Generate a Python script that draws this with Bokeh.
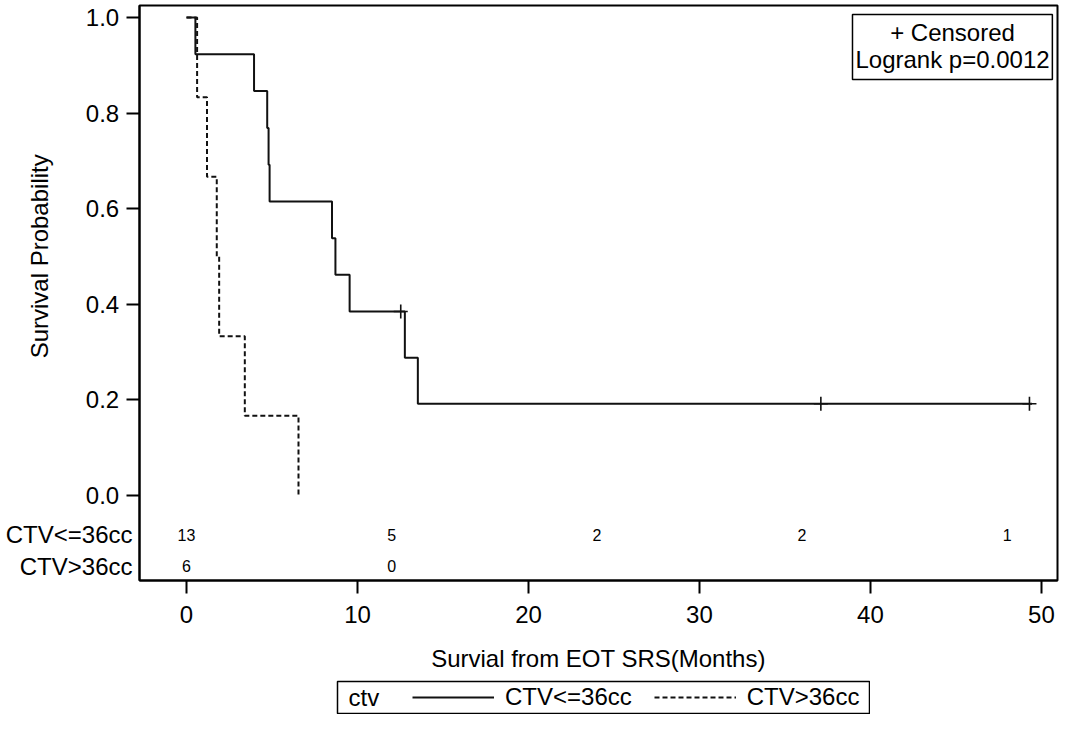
from bokeh.plotting import figure
from bokeh.layouts import column, row
from bokeh.models import (Range1d, FixedTicker, Label, Legend, LegendItem,
                          BoxAnnotation, Spacer)
from bokeh.embed import file_html
from bokeh.resources import INLINE
from bokeh.core.properties import value

FONT = "Liberation Sans"
INK = "#111111"

group_names = ["CTV<=36cc", "CTV>36cc"]

# Kaplan-Meier steps
g1_times = [0.0, 0.52, 3.95, 4.72, 4.80, 4.86, 8.51, 8.71, 9.54, 12.77, 13.53, 49.45]
g1_surv = [1.0, 0.923, 0.846, 0.769, 0.692, 0.615, 0.538, 0.462, 0.385, 0.288, 0.192, 0.192]
g1_censor_t = [12.53, 37.1, 49.3]
g1_censor_s = [0.385, 0.192, 0.192]

g2_times = [0.0, 0.62, 1.20, 1.77, 1.91, 3.41, 6.55]
g2_surv = [1.0, 0.833, 0.667, 0.500, 0.333, 0.167, 0.0]

# numbers at risk
risk_times = [0, 12, 24, 36, 48]
risk_g1 = [13, 5, 2, 2, 1]
risk_g2_times = [0, 12]
risk_g2 = [6, 0]

x_ticks = [0, 10, 20, 30, 40, 50]
y_ticks = [0.0, 0.2, 0.4, 0.6, 0.8, 1.0]
y_tick_labels = ["0.0", "0.2", "0.4", "0.6", "0.8", "1.0"]

stat_lines = ["+ Censored", "Logrank p=0.0012"]
x_title = "Survial from EOT SRS(Months)"
y_title = "Survival Probability"
legend_title = "ctv"

# layout constants (rows of the at-risk table, in y units below 0)
ROW_Y = [-0.0816, -0.1485]
PAD = "\u00a0\u00a0"

p = figure(width=1059, height=680, output_backend="svg", toolbar_location=None,
           x_range=Range1d(-2.749, 50.94), y_range=Range1d(-0.1778, 1.0251),
           min_border_left=139, min_border_right=2, min_border_top=5, min_border_bottom=100)
p.grid.visible = False
p.outline_line_color = "black"
p.outline_line_width = 2
p.background_fill_color = "white"
p.border_fill_color = "white"

for ax in (p.xaxis[0], p.yaxis[0]):
    ax.axis_line_width = 2
    ax.axis_line_color = "black"
    ax.major_tick_line_width = 2
    ax.major_tick_line_color = "black"
    ax.major_tick_in = 0
    ax.major_tick_out = 13
    ax.minor_tick_line_color = None
    ax.major_label_text_font = FONT
    ax.major_label_text_font_size = "24px"
    ax.major_label_text_color = "black"
    ax.axis_label_text_font = FONT
    ax.axis_label_text_font_size = "24px"
    ax.axis_label_text_font_style = "normal"
    ax.axis_label_text_color = "black"

p.xaxis.ticker = FixedTicker(ticks=x_ticks)
p.xaxis.major_label_standoff = 12
p.xaxis.axis_label = x_title
p.xaxis.axis_label_standoff = 19

# y axis: visible tick marks are drawn as "minor" ticks at 0..1,
# major (mark-less) ticks carry the value labels and the at-risk row names
ya = p.yaxis[0]
ya.ticker = FixedTicker(ticks=ROW_Y + y_ticks, minor_ticks=y_ticks)
overrides = {yv: lab + PAD for yv, lab in zip(y_ticks, y_tick_labels)}
for yv, name in zip(ROW_Y, group_names):
    overrides[yv] = name
ya.major_label_overrides = overrides
ya.major_tick_out = 0
ya.major_tick_line_color = None
ya.minor_tick_line_color = "black"
ya.minor_tick_line_width = 2
ya.minor_tick_in = 0
ya.minor_tick_out = 13
ya.major_label_standoff = -6
ya.axis_label = "\u00a0" * 11 + y_title
ya.axis_label_standoff = -50

r1 = p.step(g1_times, g1_surv, mode="after", line_color=INK, line_width=2)
r2 = p.step(g2_times, g2_surv, mode="after", line_color=INK, line_width=2, line_dash="5 3")
p.scatter(g1_censor_t, g1_censor_s, marker="cross", size=14, line_color=INK, line_width=1.6)

# at-risk table
p.text(risk_times, [ROW_Y[0]] * len(risk_times), text=[str(v) for v in risk_g1],
       text_font=value(FONT), text_font_size="16px", text_align="center",
       text_baseline="middle", text_color="black")
p.text(risk_g2_times, [ROW_Y[1]] * len(risk_g2_times), text=[str(v) for v in risk_g2],
       text_font=value(FONT), text_font_size="16px", text_align="center",
       text_baseline="middle", text_color="black")

# inset statistics box
p.add_layout(BoxAnnotation(left=38.95, right=50.64, bottom=0.8703, top=1.0063,
                           fill_color="white", fill_alpha=1.0,
                           line_color="black", line_width=1.5, line_alpha=1.0))
for txt, yy in zip(stat_lines, [0.968, 0.912]):
    p.add_layout(Label(x=44.80, y=yy, text=txt, text_align="center", text_baseline="middle",
                       text_font=FONT, text_font_size="24px", text_color="black"))

# legend panel below the plot
p2 = figure(width=534, height=34, output_backend="svg", toolbar_location=None,
            x_range=Range1d(0, 532), y_range=Range1d(0, 32),
            min_border_left=1, min_border_right=1, min_border_top=1, min_border_bottom=1)
p2.axis.visible = False
p2.grid.visible = False
p2.outline_line_color = "black"
p2.outline_line_width = 1.5
p2.outline_line_alpha = 1.0
p2.border_fill_color = "white"
lr1 = p2.line(g1_times, g1_surv, line_color=INK, line_width=2, visible=False)
lr2 = p2.line(g2_times, g2_surv, line_color=INK, line_width=2, line_dash="5 3", visible=False)
p2.add_layout(Label(x=11, y=16, text=legend_title, text_align="left", text_baseline="middle",
                    text_font=FONT, text_font_size="24px", text_color="black"))
legend = Legend(items=[LegendItem(label=group_names[0], renderers=[lr1]),
                       LegendItem(label=group_names[1], renderers=[lr2])],
                orientation="horizontal", location=(75, 2),
                label_text_font=FONT, label_text_font_size="24px", label_text_color="black",
                glyph_width=82, glyph_height=20, label_standoff=11, spacing=22,
                padding=0, margin=0, border_line_color=None,
                background_fill_alpha=0.0, inactive_fill_alpha=0.0)
p2.add_layout(legend)

layout = column(p, row(Spacer(width=336, height=34), p2))
open("out.html", "w").write(file_html(layout, INLINE))
